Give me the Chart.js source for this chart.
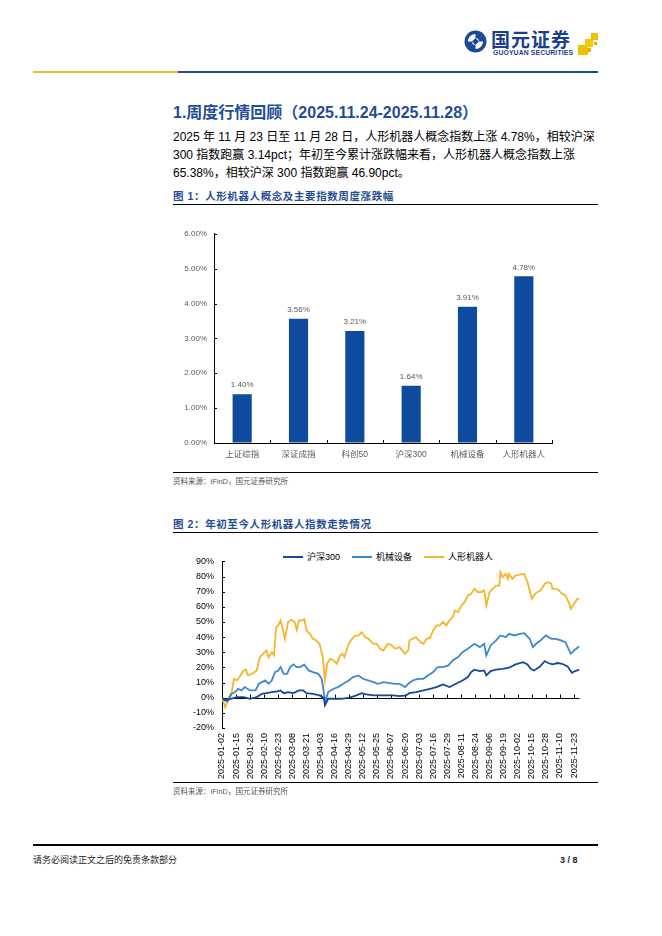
<!DOCTYPE html>
<html><head><meta charset="utf-8">
<script src="https://cdn.jsdelivr.net/npm/chart.js@4.4.1/dist/chart.umd.min.js"></script>
<style>
html,body{margin:0;padding:0;background:#fff;}
body{width:662px;height:936px;position:relative;overflow:hidden;font-family:"Liberation Sans","Noto Sans CJK SC",sans-serif;color:#000;}
.abs{position:absolute;white-space:nowrap;}
.hl{position:absolute;height:1px;background:#000;}
.ftitle{position:absolute;left:173px;font-size:10.5px;font-weight:bold;color:#1F4E96;letter-spacing:0.6px;line-height:14px;white-space:nowrap;}
.src{position:absolute;left:173px;font-size:7.5px;color:#555;line-height:10px;white-space:nowrap;}
.para{position:absolute;left:173px;font-size:12px;line-height:17px;white-space:nowrap;}
#legend{position:absolute;top:551px;left:160px;width:430px;display:flex;justify-content:center;font-size:9px;line-height:12px;padding-left:26px;box-sizing:border-box;}
#legend .it{display:flex;align-items:center;margin:0 6px;}
#legend .sw{width:20px;height:2px;margin-right:4px;}
</style></head><body>

<!-- header logo -->
<svg class="abs" style="left:464px;top:30px" width="23" height="23" viewBox="0 0 23 23">
  <circle cx="11.5" cy="11.5" r="11" fill="#1C4A9A"/>
  <circle cx="11.5" cy="11.5" r="7.6" fill="#fff"/>
  <path d="M11.5 3.2 A8.3 8.3 0 0 1 19.8 11.5 L15 11.5 A3.5 3.5 0 0 0 11.5 8 Z" fill="#1C4A9A"/>
  <path d="M11.5 19.8 A8.3 8.3 0 0 1 3.2 11.5 L8 11.5 A3.5 3.5 0 0 0 11.5 15 Z" fill="#1C4A9A"/>
  <rect x="9" y="9" width="5" height="5" transform="rotate(45 11.5 11.5)" fill="#1C4A9A"/>
</svg>
<div class="abs" style="left:491px;top:29px;font-size:19px;font-weight:bold;color:#1C3F8C;letter-spacing:1px;line-height:20px;font-family:'Noto Sans CJK SC',sans-serif;">国元证券</div>
<div class="abs" style="left:493px;top:49px;font-size:6.8px;font-weight:bold;color:#1C3F8C;letter-spacing:0.15px;line-height:8px;">GUOYUAN SECURITIES</div>
<div class="abs" style="left:578px;top:45px;width:10px;height:10px;background:#F2BE00;"></div>
<div class="abs" style="left:585px;top:39px;width:8px;height:8px;background:#F6C80A;"></div>
<div class="abs" style="left:591px;top:33px;width:7px;height:7px;background:#F2BE00;"></div>
<div class="abs" style="left:587px;top:48px;width:4px;height:4px;background:#E8AE00;"></div>
<div class="abs" style="left:594px;top:42px;width:3px;height:3px;background:#E8AE00;"></div>
<div class="abs" style="left:33px;top:71px;width:145px;height:2px;background:#F0B62D;"></div>
<div class="abs" style="left:178px;top:71px;width:420px;height:2px;background:#1F4E96;"></div>

<!-- section title and paragraph -->
<div class="abs" style="left:173px;top:102px;font-size:16px;font-weight:bold;color:#1F4E96;line-height:22px;">1.周度行情回顾（2025.11.24-2025.11.28）</div>
<div class="para" style="top:129px;">2025 年 11 月 23 日至 11 月 28 日，人形机器人概念指数上涨 4.78%，相较沪深</div>
<div class="para" style="top:147px;">300 指数跑赢 3.14pct；年初至今累计涨跌幅来看，人形机器人概念指数上涨</div>
<div class="para" style="top:165px;">65.38%，相较沪深 300 指数跑赢 46.90pct。</div>

<div class="ftitle" style="top:189px;">图 1：人形机器人概念及主要指数周度涨跌幅</div>
<div class="hl" style="left:173px;top:204px;width:425px;"></div>

<canvas id="bar" class="abs" style="left:160px;top:222px;" width="400" height="246"></canvas>

<div class="hl" style="left:173px;top:472px;width:425px;"></div>
<div class="src" style="top:477px;">资料来源：iFinD，国元证券研究所</div>

<div class="ftitle" style="top:517px;">图 2：年初至今人形机器人指数走势情况</div>
<div class="hl" style="left:173px;top:532px;width:425px;"></div>

<div id="legend"></div>
<canvas id="line" class="abs" style="left:160px;top:548px;" width="430" height="240"></canvas>

<div class="hl" style="left:173px;top:782px;width:425px;"></div>
<div class="src" style="top:787px;">资料来源：iFinD，国元证券研究所</div>

<!-- footer -->
<div class="abs" style="left:33px;top:844px;width:565px;height:2px;background:#000;"></div>
<div class="abs" style="left:33px;top:854px;font-size:9px;line-height:12px;color:#222;">请务必阅读正文之后的免责条款部分</div>
<div class="abs" style="left:560px;top:854px;font-size:9px;line-height:12px;font-weight:bold;color:#222;">3 / 8</div>

<script>
// ---------- Figure 1 data ----------
const barCategories = ['上证综指','深证成指','科创50','沪深300','机械设备','人形机器人'];
const barValues = [1.40, 3.56, 3.21, 1.64, 3.91, 4.78];

// ---------- Figure 2 data (day offset from 2025-01-02, cumulative % change) ----------
const xTickLabels = ['2025-01-02','2025-01-15','2025-01-28','2025-02-10','2025-02-23','2025-03-08','2025-03-21','2025-04-03','2025-04-16','2025-04-29','2025-05-12','2025-05-25','2025-06-07','2025-06-20','2025-07-03','2025-07-16','2025-07-29','2025-08-11','2025-08-24','2025-09-06','2025-09-19','2025-10-02','2025-10-15','2025-10-28','2025-11-10','2025-11-23'];
const xTickStep = 13;
const xMaxDay = 330;
const yTickValues = [90,80,70,60,50,40,30,20,10,0,-10,-20];

const hs300Days = [0,3,8,14,20,26,32,37,41,46,51,54,57,61,66,71,75,78,84,90,94,95,98,103,110,118,124,129,133,140,146,152,158,164,170,173,179,186,192,198,204,210,216,222,227,230,233,238,242,244,248,253,259,265,271,278,282,285,288,293,298,301,305,310,314,319,323,326,330];
const hs300Vals = [0,-1.8,-0.7,0.4,0.4,-0.7,0.4,2.6,3,3.7,4.2,4.8,3,3.7,3,4.8,4.8,3,2.6,1.5,0,-5,-0.7,-0.7,-0.7,0,1.5,3,2.2,1.5,1.5,1.5,1.5,1.1,1.5,3,3.7,4.8,5.9,7,8.8,7,9.2,11.4,13.6,16.9,18.5,17.6,18,14.7,17.6,18.5,19.1,19.8,22,23.5,22,19.1,18,20.2,24.2,22.9,22,22.9,22.4,20.7,16.5,17.6,18.48];

const jxsbDays = [0,5,9,12,15,18,21,26,31,34,37,40,43,46,49,52,54,57,60,63,66,69,72,76,80,84,89,92,94,95,98,103,107,112,117,121,126,130,135,140,144,149,155,160,164,169,172,176,181,186,190,195,199,204,209,213,218,222,227,233,238,242,244,248,253,257,262,265,270,275,279,284,287,290,294,299,304,308,313,317,322,325,330];
const jxsbVals = [0,-2.5,2.6,3.7,5.9,4.8,7,4.8,4.8,9.2,10.3,11.4,9.2,11.4,16.9,18,20.2,15.8,15.8,20.2,22,20.2,20.2,21.8,18,16.9,15.8,12.5,3.7,-3,3.7,5.9,7,9.2,11.4,13.6,14.7,12.5,11.4,10.3,9.2,10.3,9.7,9.2,9.2,7,9.2,11.4,12.5,12.5,14.7,16.9,20.2,20.2,21.3,24.6,26.8,30.1,32.3,35.6,33.4,35.6,27.9,34.5,37.8,41.1,40,42.2,41.1,42.2,42.6,38.9,33.4,35.6,37.8,41.1,38.9,38.9,37.8,36.7,29,31.2,34];

const rxjqrDays = [0,3,6,9,11,14,17,20,22,24,28,32,35,38,41,43,46,48,50,52,54,56,58,61,64,67,69,71,74,76,78,81,84,87,90,93,95,97,100,103,106,109,111,113,117,120,123,126,129,132,135,140,143,146,149,153,156,160,164,169,172,173,176,179,183,186,189,192,195,198,201,204,207,210,213,215,218,221,224,227,230,233,236,239,242,244,247,250,253,256,257,259,262,264,265,268,271,275,279,282,284,286,289,291,294,298,301,304,305,308,311,314,317,320,322,325,328,330];
const rxjqrVals = [0,-6.3,0,3.7,12.5,11.4,14.7,18,18.5,14.7,15.8,18,26.8,29,31.2,26.8,30,27.9,46.6,47.7,51,45.5,38.9,49.9,51.4,49.9,44.8,51,51,52,44.4,42.2,38.9,37.8,35.6,26.8,11.5,22.4,25.7,24.6,22.4,27.9,29,26.8,35.6,38.9,41,41,43.3,40,38.9,35.6,35.6,32.3,31.2,35.6,35,32.3,33.4,29,31.2,37.8,38.9,40,36.7,35.6,38.9,39.5,44.4,47.7,47.7,49.9,47.7,51,53.2,57.6,56.5,60.9,63.1,67.5,68.6,71.9,69.7,69.7,70.8,60.9,69.7,71.9,74,74,82.9,79.6,81.8,78.5,81.8,78.5,80.7,81.3,81.8,76.3,70.8,65.3,68.6,69.7,70.8,75.2,76.3,75.2,71.9,71.9,70.8,68.6,67.5,63.1,58.7,62,65.3,65.38];

const seriesNames = ['沪深300','机械设备','人形机器人'];
const seriesColors = ['#17479A','#3F88CF','#F5B52A'];

const FONT = '"Liberation Sans","Noto Sans CJK SC",sans-serif';
const toXY = (d, v) => d.map((x, i) => ({x: x, y: v[i]}));

// inner tick marks / zero axis plugin
const innerTicks = {
  id: 'innerTicks',
  beforeDatasetsDraw(chart, args, opts) {
    const ctx = chart.ctx, xs = chart.scales.x, ys = chart.scales.y, ca = chart.chartArea;
    ctx.save();
    ctx.strokeStyle = '#000';
    ctx.lineWidth = 1;
    ctx.beginPath();
    // y ticks pointing right
    ys.ticks.forEach(t => {
      const py = Math.round(ys.getPixelForValue(t.value)) + 0.5;
      ctx.moveTo(ca.left, py); ctx.lineTo(ca.left + 3, py);
    });
    if (opts.mode === 'bar') {
      const n = chart.data.labels.length;
      for (let i = 0; i <= n; i++) {
        const px = Math.round(xs.getPixelForValue(i - 0.5)) + 0.5;
        ctx.moveTo(px, ca.bottom); ctx.lineTo(px, ca.bottom - 3);
      }
    } else {
      const py0 = Math.round(ys.getPixelForValue(0)) + 0.5;
      ctx.moveTo(ca.left, py0); ctx.lineTo(ca.right, py0);
      xs.ticks.forEach(t => {
        const px = Math.round(xs.getPixelForValue(t.value)) + 0.5;
        ctx.moveTo(px, py0); ctx.lineTo(px, py0 - 4);
      });
    }
    ctx.stroke();
    ctx.restore();
  }
};

// bar value labels
const barLabels = {
  id: 'barLabels',
  afterDatasetsDraw(chart) {
    const ctx = chart.ctx;
    const meta = chart.getDatasetMeta(0);
    ctx.save();
    ctx.font = '8px ' + FONT;
    ctx.fillStyle = '#595959';
    ctx.textAlign = 'center';
    ctx.textBaseline = 'bottom';
    meta.data.forEach((el, i) => {
      ctx.fillText(chart.data.datasets[0].data[i].toFixed(2) + '%', el.x, el.y - 5);
    });
    ctx.restore();
  }
};

new Chart(document.getElementById('bar'), {
  type: 'bar',
  data: {
    labels: barCategories,
    datasets: [{ data: barValues, backgroundColor: '#0E4B9F', barPercentage: 0.34, categoryPercentage: 1 }]
  },
  options: {
    responsive: false, animation: false,
    layout: { padding: { left: 0, right: 8, top: 11, bottom: 0 } },
    plugins: { legend: { display: false }, tooltip: { enabled: false }, innerTicks: { mode: 'bar' } },
    scales: {
      x: {
        grid: { display: true, drawOnChartArea: false, drawTicks: false },
        border: { display: true, color: '#000', width: 1 },
        ticks: { font: { size: 8.5, family: FONT }, color: '#595959', padding: 7, maxRotation: 0, autoSkip: false },
        afterFit: s => { s.height = 25; }
      },
      y: {
        min: 0, max: 6,
        grid: { display: true, drawOnChartArea: false, drawTicks: false },
        border: { display: true, color: '#000', width: 1 },
        ticks: { stepSize: 1, font: { size: 8, family: FONT }, color: '#595959', padding: 7, callback: v => v.toFixed(2) + '%' },
        afterFit: s => { s.width = 54; }
      }
    }
  },
  plugins: [innerTicks, barLabels]
});

const lineChart = new Chart(document.getElementById('line'), {
  type: 'line',
  data: {
    datasets: [
      { label: seriesNames[0], data: toXY(hs300Days, hs300Vals), borderColor: seriesColors[0] },
      { label: seriesNames[1], data: toXY(jxsbDays, jxsbVals), borderColor: seriesColors[1] },
      { label: seriesNames[2], data: toXY(rxjqrDays, rxjqrVals), borderColor: seriesColors[2] }
    ].map(d => Object.assign(d, { borderWidth: 1.8, pointRadius: 0, tension: 0, fill: false }))
  },
  options: {
    responsive: false, animation: false,
    layout: { padding: { left: 0, right: 10, top: 12, bottom: 0 } },
    plugins: { legend: { display: false }, tooltip: { enabled: false }, innerTicks: { mode: 'line' } },
    scales: {
      x: {
        type: 'linear', min: 0, max: xMaxDay,
        grid: { display: false, drawTicks: false },
        border: { display: false },
        afterBuildTicks: s => { s.ticks = xTickLabels.map((_, i) => ({ value: i * xTickStep })); },
        ticks: {
          autoSkip: false, minRotation: 90, maxRotation: 90, padding: 5,
          font: { size: 9, family: FONT }, color: '#000',
          callback: v => xTickLabels[Math.round(v / xTickStep)]
        },
        afterFit: s => { s.height = 60; }
      },
      y: {
        min: -20, max: 90,
        grid: { display: true, drawOnChartArea: false, drawTicks: false },
        border: { display: true, color: '#000', width: 1 },
        afterBuildTicks: s => { s.ticks = yTickValues.map(v => ({ value: v })); },
        ticks: { font: { size: 9, family: FONT }, color: '#000', padding: 8, callback: v => v + '%' },
        afterFit: s => { s.width = 62; }
      }
    }
  },
  plugins: [innerTicks]
});

// legend built from the datasets
const lg = document.getElementById('legend');
lineChart.data.datasets.forEach(ds => {
  const it = document.createElement('div'); it.className = 'it';
  const sw = document.createElement('div'); sw.className = 'sw'; sw.style.background = ds.borderColor;
  const tx = document.createElement('span'); tx.textContent = ds.label;
  it.appendChild(sw); it.appendChild(tx); lg.appendChild(it);
});
</script>
</body></html>
